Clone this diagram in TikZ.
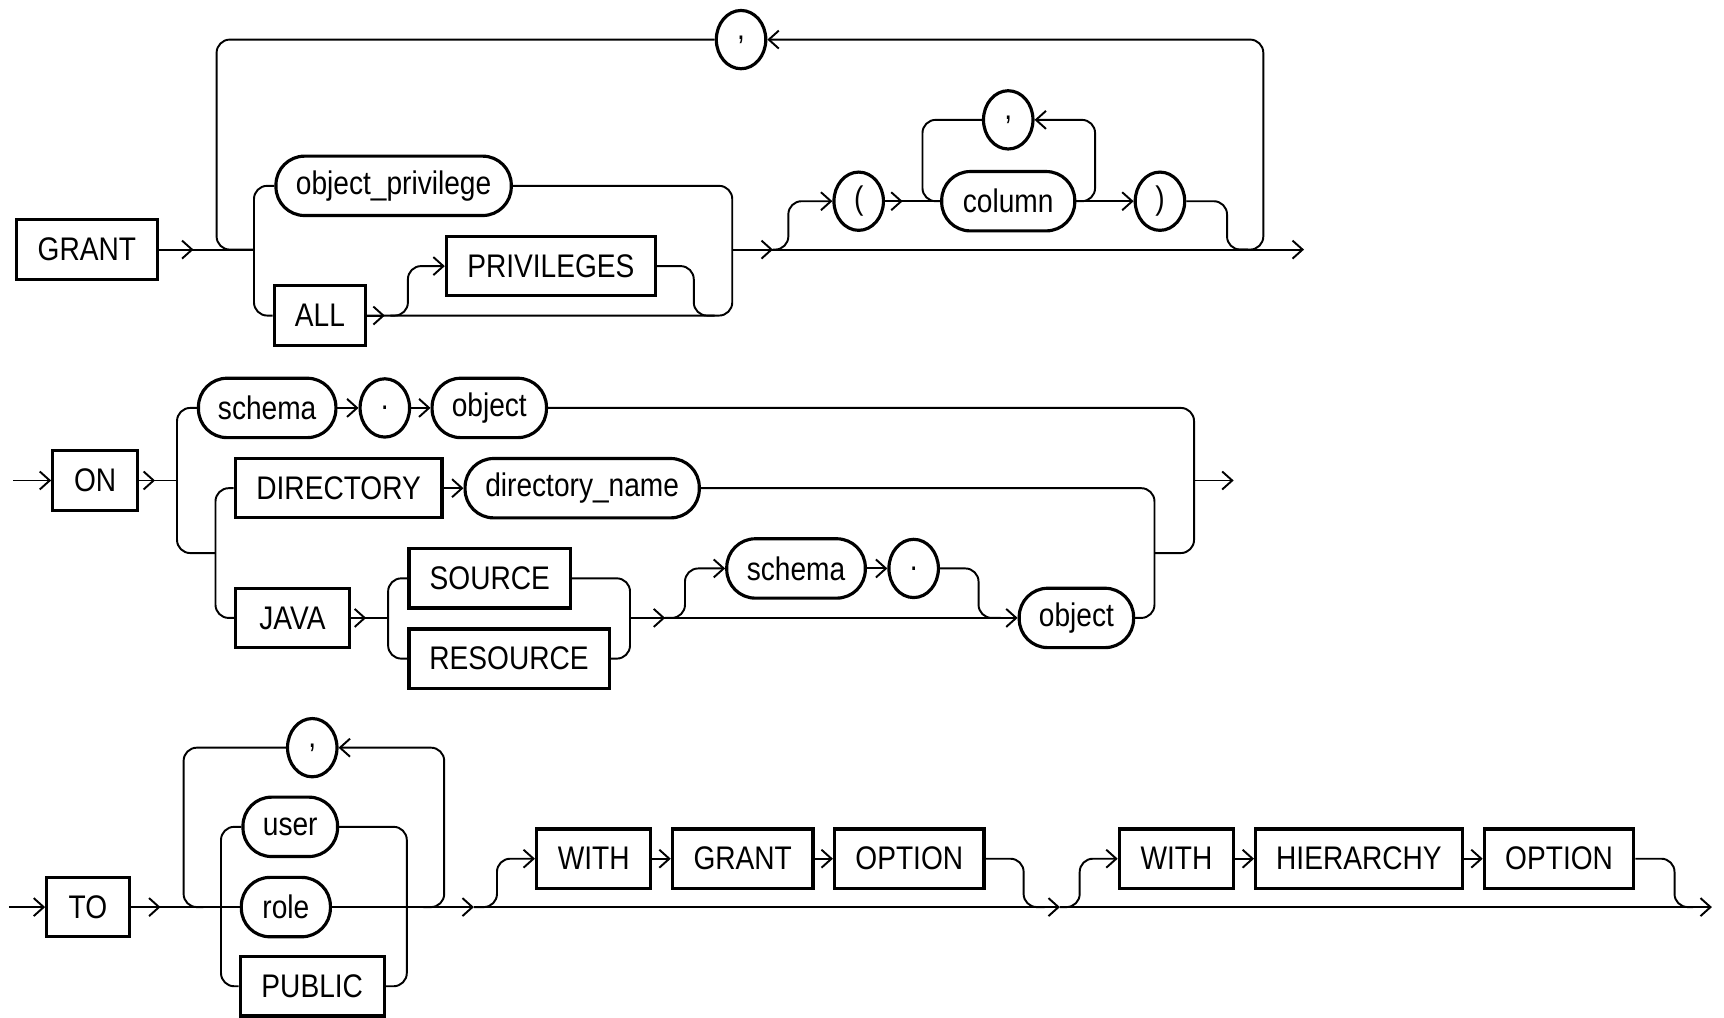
\documentclass[tikz,border=0pt]{standalone}
\usepackage{fontspec}
\setmainfont{Liberation Sans}[FakeStretch=0.86]
\usepackage{tikz}
\usetikzlibrary{arrows.meta, shapes.geometric}

\newlength{\px}
\setlength{\px}{0.10995mm}

\tikzset{
  kw/.style={draw, rectangle, line width=0.9pt, minimum height=54\px, minimum width=#1, inner sep=0pt},
  nt/.style={draw, rectangle, rounded corners=26\px, line width=0.9pt, minimum height=54\px, minimum width=#1, inner sep=0pt},
  sym/.style={draw, ellipse, line width=0.9pt, minimum width=45\px, minimum height=53\px, inner sep=0pt},
  rc/.style={rounded corners=12\px},
  arr/.style={-{Straight Barb[length=1mm,width=1.8mm]}}
}

\begin{document}
\begin{tikzpicture}[x=\px, y=-\px, line width=0.55pt, every node/.style={font=\fontsize{9.3}{11}\selectfont}]
            \useasboundingbox (0,0) rectangle (1568,925);

            % GRANT line
            \node[kw=128\px] (grant) at (79,227) {GRANT};
            \node[nt=214\px] (objpriv) at (358,169) {object\_privilege};
            \node[kw=83\px] (all) at (291,287) {ALL};
            \node[kw=190\px] (privs) at (501,242) {PRIVILEGES};
            \node[sym] (comma1) at (674,36) {,};
            \node[sym] (lpar) at (781,183) {(};
            \node[nt=121\px] (column) at (917,183) {column};
            \node[sym] (comma2) at (917,109) {,};
            \node[sym] (rpar) at (1055,183) {)};
            \coordinate (end1) at (1186,227);

            \draw (grant.east) -- (231,227);
            \draw[arr] (grant.east) -- (176,227);
            \draw[rc] (comma1.west) -- (197,36) -- (197,227) -- (231,227); % repeat loop
            \draw[rc, arr] (1125,227) -- (1149,227) -- (1149,36) -- (comma1.east);
            \draw[rc] (objpriv.west) -- (231,169) -- (231,287) -- (all.west);
            \draw[rc] (objpriv.east) -- (666,169) -- (666,287) -- (all.east);
            \draw[arr] (all.east) -- (350,287);
            \draw[rc, arr] (355,287) -- (371,287) -- (371,242) -- (privs.west); % optional PRIVILEGES
            \draw[rc] (privs.east) -- (631,242) -- (631,287) -- (650,287);
            \draw[arr] (666,227) -- (end1);
            \draw[arr] (666,227) -- (703,227);
            \draw[rc, arr] (703,227) -- (717,227) -- (717,183) -- (lpar.west); % optional column list
            \draw (lpar.east) -- (column.west);
            \draw[arr] (lpar.east) -- (821,183);
            \draw[rc, arr] (column.east) -- (996,183) -- (996,109) -- (comma2.east);
            \draw[rc] (comma2.west) -- (839,109) -- (839,183) -- (column.west);
            \draw[arr] (column.east) -- (rpar.west);
            \draw[rc] (rpar.east) -- (1116,183) -- (1116,227) -- (1135,227);

            % ON line
            \node[kw=77\px] (on) at (86.5,437) {ON};
            \node[nt=125\px] (schema1) at (243,371) {schema};
            \node[sym] (dot1) at (350,371) {.};
            \node[nt=104\px] (object1) at (445,371) {object};
            \node[kw=188\px] (directory) at (308,444) {DIRECTORY};
            \node[nt=213\px] (dirname) at (529.5,444) {directory\_name};
            \node[kw=103\px] (java) at (266,562) {JAVA};
            \node[kw=147\px] (source) at (445.5,526) {SOURCE};
            \node[kw=182\px] (resource) at (463,599) {RESOURCE};
            \node[nt=126\px] (schema2) at (724,517) {schema};
            \node[sym] (dot2) at (831,517) {.};
            \node[nt=104\px] (object2) at (979,562) {object};
            \coordinate (start2) at (12,437);
            \coordinate (end2) at (1122,437);

            \draw[arr] (start2) -- (on.west);
            \draw (on.east) -- (161,437);
            \draw[arr] (on.east) -- (141,437);
            \draw[rc] (schema1.west) -- (161,371) -- (161,503) -- (196,503);
            \draw[rc] (directory.west) -- (196,444) -- (196,562) -- (java.west);
            \draw[arr] (schema1.east) -- (dot1.west);
            \draw[arr] (dot1.east) -- (object1.west);
            \draw[rc] (object1.east) -- (1086,371) -- (1086,503) -- (1050,503);
            \draw[arr] (directory.east) -- (dirname.west);
            \draw[rc] (dirname.east) -- (1050,444) -- (1050,562) -- (object2.east);
            \draw[arr] (1086,437) -- (end2);
            \draw (java.east) -- (353,562);
            \draw[arr] (java.east) -- (333,562);
            \draw[rc] (source.west) -- (353,526) -- (353,599) -- (resource.west);
            \draw[rc] (source.east) -- (573,526) -- (573,599) -- (resource.east);
            \draw[arr] (573,562) -- (object2.west);
            \draw[arr] (573,562) -- (605,562);
            \draw[rc, arr] (605,562) -- (623,562) -- (623,517) -- (schema2.west); % optional schema
            \draw[arr] (schema2.east) -- (dot2.west);
            \draw[rc] (dot2.east) -- (890,517) -- (890,562) -- (910,562);

            % TO line
            \node[kw=75\px] (to) at (80,825) {TO};
            \node[sym] (comma3) at (284,680) {,};
            \node[nt=86\px] (user) at (264,752) {user};
            \node[nt=81\px] (role) at (260,825) {role};
            \node[kw=131\px] (public) at (284,897) {PUBLIC};
            \node[kw=104\px] (with1) at (540,781) {WITH};
            \node[kw=128\px] (grant2) at (675.5,781) {GRANT};
            \node[kw=136\px] (option1) at (827,781) {OPTION};
            \node[kw=104\px] (with2) at (1070,781) {WITH};
            \node[kw=188\px] (hierarchy) at (1236,781) {HIERARCHY};
            \node[kw=136\px] (option2) at (1418,781) {OPTION};
            \coordinate (start3) at (8,825);
            \coordinate (end3) at (1557,825);

            \draw[arr] (start3) -- (to.west);
            \draw (to.east) -- (role.west);
            \draw[arr] (to.east) -- (146,825);
            \draw[rc] (comma3.west) -- (167,680) -- (167,825) -- (185,825); % repeat loop
            \draw[rc, arr] (385,825) -- (404,825) -- (404,680) -- (comma3.east);
            \draw[rc] (user.west) -- (201,752) -- (201,897) -- (public.west);
            \draw[rc] (user.east) -- (370,752) -- (370,897) -- (public.east);
            \draw[arr] (role.east) -- (431,825);
            \draw[arr] (431,825) -- (964,825);
            \draw[rc, arr] (431,825) -- (452,825) -- (452,781) -- (with1.west); % optional WITH GRANT OPTION
            \draw[arr] (with1.east) -- (grant2.west);
            \draw[arr] (grant2.east) -- (option1.west);
            \draw[rc] (option1.east) -- (931,781) -- (931,825) -- (950,825);
            \draw[arr] (964,825) -- (end3);
            \draw[rc, arr] (964,825) -- (982,825) -- (982,781) -- (with2.west); % optional WITH HIERARCHY OPTION
            \draw[arr] (with2.east) -- (hierarchy.west);
            \draw[arr] (hierarchy.east) -- (option2.west);
            \draw[rc] (option2.east) -- (1523,781) -- (1523,825) -- (1540,825);
        \end{tikzpicture}
\end{document}
